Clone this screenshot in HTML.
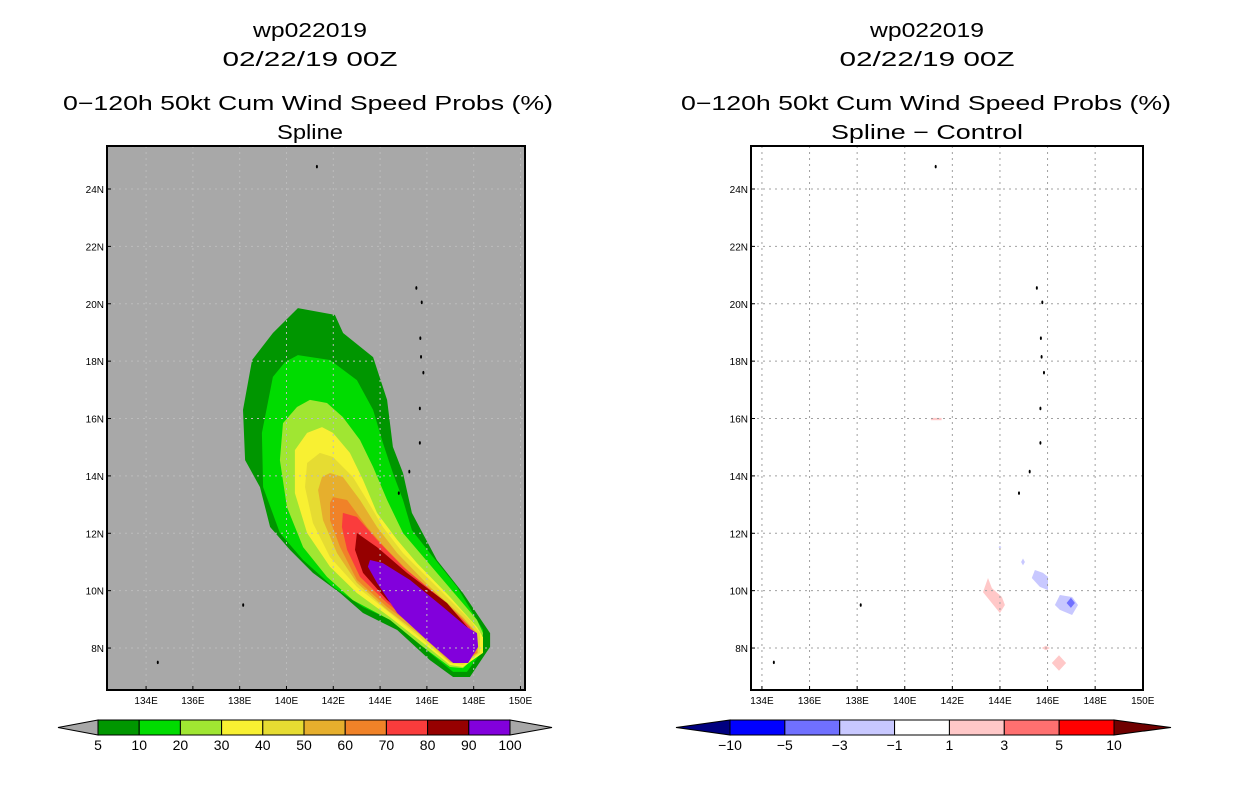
<!DOCTYPE html>
<html><head><meta charset="utf-8"><style>
html,body{margin:0;padding:0;background:#fff;}
svg{display:block;font-family:"Liberation Sans",sans-serif;}
</style></head><body>
<svg id="c" width="1236" height="800" viewBox="0 0 1236 800" xmlns="http://www.w3.org/2000/svg">
<g font-size="20" text-anchor="middle" fill="#000" lengthAdjust="spacingAndGlyphs">
<text x="310" y="37" textLength="114" lengthAdjust="spacingAndGlyphs">wp022019</text><text x="310" y="66" textLength="175" lengthAdjust="spacingAndGlyphs">02/22/19 00Z</text>
<text x="308" y="110" textLength="490" lengthAdjust="spacingAndGlyphs">0−120h 50kt Cum Wind Speed Probs (%)</text><text x="310" y="139" textLength="66" lengthAdjust="spacingAndGlyphs">Spline</text></g>
<g font-size="20" text-anchor="middle" fill="#000">
<text x="927" y="37" textLength="114" lengthAdjust="spacingAndGlyphs">wp022019</text><text x="927" y="66" textLength="175" lengthAdjust="spacingAndGlyphs">02/22/19 00Z</text>
<text x="926" y="110" textLength="490" lengthAdjust="spacingAndGlyphs">0−120h 50kt Cum Wind Speed Probs (%)</text><text x="927" y="139" textLength="192" lengthAdjust="spacingAndGlyphs">Spline − Control</text></g>
<g id="L"></g><g id="R"></g><g id="CB"></g>
</svg>
<script>
const NS="http://www.w3.org/2000/svg";
// ---- data ----
const lonTicks=[134,136,138,140,142,144,146,148,150];
const latTicks=[8,10,12,14,16,18,20,22,24];
const probLevels=[5,10,20,30,40,50,60,70,80,90,100];
const probColors=["#009600","#00dc00","#a0e632","#f8f032","#e6dc32","#e6af2d","#f08228","#fa3c3c","#960000","#8200dc"];
const c5=[[140.49,19.85],[142.07,19.61],[142.42,18.98],[143.70,18.14],[144.30,16.65],[144.55,15.01],[144.98,14.10],[145.36,12.71],[146.43,11.07],[147.54,9.92],[148.70,8.52],[148.70,8.04],[147.84,6.99],[147.12,6.99],[146.13,7.58],[144.73,8.63],[143.27,9.22],[142.29,9.92],[141.13,10.62],[140.15,11.42],[139.30,12.22],[138.87,13.61],[138.23,14.55],[138.14,16.30],[138.53,18.04],[139.42,18.98]];
const c10=[[140.49,18.21],[141.86,18.04],[143.01,17.34],[143.70,16.30],[144.12,15.15],[144.55,14.10],[144.98,13.16],[145.36,12.11],[146.13,11.31],[147.29,10.13],[148.40,8.63],[148.40,7.93],[147.71,7.17],[147.12,7.17],[146.13,7.83],[144.73,8.87],[143.27,9.43],[141.99,10.13],[140.71,11.07],[139.72,12.01],[139.00,13.61],[138.95,15.50],[139.42,17.45],[139.94,17.97]];
const c20=[[141.00,16.65],[141.73,16.54],[142.41,16.05],[143.14,15.25],[143.70,14.31],[144.30,13.16],[144.98,12.01],[145.71,11.31],[146.69,10.37],[148.14,8.98],[148.40,8.52],[148.27,7.83],[147.54,7.30],[146.99,7.34],[145.83,8.04],[144.42,8.98],[142.84,9.67],[141.73,10.48],[140.71,11.52],[140.02,12.92],[139.72,14.55],[139.85,15.84],[140.45,16.40]];
const c30=[[141.52,15.70],[141.99,15.50],[142.71,14.80],[143.27,13.86],[143.87,12.71],[144.73,11.77],[145.58,10.96],[146.99,9.78],[148.14,8.73],[148.40,8.38],[148.40,7.83],[147.54,7.34],[146.99,7.41],[145.83,8.18],[144.42,9.08],[143.01,9.92],[141.86,10.83],[140.88,12.01],[140.36,13.40],[140.36,14.90],[140.88,15.50]];
const c40=[[141.43,14.80],[141.99,14.66],[142.84,13.96],[143.44,13.16],[144.12,12.22],[144.98,11.31],[146.43,10.13],[147.84,8.98],[148.27,8.52],[148.27,7.83],[147.54,7.41],[146.99,7.48],[145.83,8.28],[144.42,9.22],[143.01,10.13],[141.86,11.17],[141.13,12.36],[140.79,13.61],[140.88,14.45]];
const c50=[[141.86,14.10],[142.41,13.96],[143.14,13.16],[143.87,12.22],[144.73,11.31],[146.13,10.13],[147.54,9.08],[148.14,8.52],[148.19,7.83],[147.54,7.48],[146.99,7.51],[145.83,8.38],[144.30,9.33],[143.01,10.27],[142.16,11.31],[141.56,12.46],[141.35,13.51],[141.52,13.96]];
const c60=[[141.99,13.26],[142.59,13.16],[143.44,12.22],[144.30,11.42],[145.58,10.37],[147.29,9.22],[147.97,8.63],[148.14,7.83],[147.54,7.51],[146.99,7.58],[145.83,8.52],[144.30,9.43],[143.01,10.37],[142.29,11.52],[141.86,12.46],[141.86,13.06]];
const c70=[[142.41,12.71],[143.01,12.57],[143.87,11.77],[144.98,10.83],[146.69,9.67],[147.84,8.73],[148.06,7.83],[147.54,7.58],[146.99,7.65],[145.83,8.56],[144.30,9.57],[143.14,10.48],[142.59,11.42],[142.37,12.22]];
const c80=[[143.01,12.01],[143.87,11.52],[145.15,10.62],[146.86,9.57],[147.84,8.63],[147.97,7.83],[147.54,7.65],[146.99,7.69],[145.83,8.63],[144.30,9.67],[143.27,10.62],[142.93,11.42]];
const c90=[[143.57,11.07],[144.12,10.96],[145.28,10.37],[146.69,9.43],[147.71,8.73],[148.14,8.52],[148.19,8.04],[147.76,7.48],[147.12,7.48],[146.13,8.18],[144.73,9.22],[143.87,10.27],[143.48,10.83]];
const probContours=[c5,c10,c20,c30,c40,c50,c60,c70,c80,c90];
const diffLevels=[-10,-5,-3,-1,1,3,5,10];
const diffColors=["#0000ff","#7070ff","#c8c8ff","#ffffff","#ffc8c8","#ff7070","#ff0000"];
const d1=[[143.50,10.44],[143.29,9.95],[143.79,9.43],[144.00,9.22],[144.21,9.50],[144.08,9.78],[143.66,10.09]];
const d2=[[145.47,10.72],[145.81,10.62],[146.02,10.48],[146.02,10.02],[145.68,10.13],[145.34,10.44]];
const d3=[[146.52,9.85],[147.03,9.78],[147.28,9.50],[147.03,9.15],[146.52,9.33],[146.31,9.50]];
const d4=[[146.98,9.75],[147.15,9.57],[146.98,9.40],[146.80,9.57]];
const d5=[[146.48,7.75],[146.78,7.48],[146.48,7.21],[146.18,7.48]];
const d6=[[145.93,8.08],[146.10,8.0],[145.93,7.92],[145.76,8.0]];
const d7=[[144.97,11.12],[145.05,11.0],[144.97,10.88],[144.89,11.0]];
const d8=[[144.0,11.56],[144.06,11.52],[144.0,11.48],[143.94,11.52]];
const d9=[[141.1,16.02],[141.55,16.02],[141.55,15.94],[141.1,15.94]];
const diffPolys=[d1,d2,d3,d4,d5,d6,d7,d8,d9];
const diffPolyClass=[4,2,2,1,4,4,2,2,4];
const islands=[[141.3,24.78],[145.55,20.55],[145.78,20.05],[145.72,18.8],[145.75,18.15],[145.85,17.6],[145.7,16.35],[145.7,15.15],[145.25,14.15],[144.8,13.4],[138.15,9.5],[134.5,7.5]];
// ---- panels ----
const panels=[{g:"L",x0:107,x1:525,lon0:132.33,ppd:23.4,bg:"#a8a8a8",grid:"#bcbcbc"},
{g:"R",x0:751,x1:1143,lon0:133.54,ppd:23.8,bg:"#ffffff",grid:"#a0a0a0"}];
const yTop=146,yBot=690;
function yOf(lat){return 189+(24-lat)*28.69;}
function mk(p,t,a){const e=document.createElementNS(NS,t);for(const k in a)e.setAttribute(k,a[k]);p.appendChild(e);return e;}
panels.forEach((P,pi)=>{
 const g=document.getElementById(P.g);
 const xOf=lon=>P.x0+(lon-P.lon0)*P.ppd;
 const pts=poly=>poly.map(q=>xOf(q[0]).toFixed(1)+","+yOf(q[1]).toFixed(1)).join(" ");
 const bg=mk(g,"rect",{x:P.x0,y:yTop,width:P.x1-P.x0,height:yBot-yTop,fill:P.bg});
 
 
 if(pi===0){probContours.forEach((poly,i)=>{const e=mk(g,"polygon",{points:pts(poly),fill:probColors[i]});
  
  });}
 else{diffPolys.forEach((poly,i)=>{const e=mk(g,"polygon",{points:pts(poly),fill:diffColors[diffPolyClass[i]]});
  
  });}
 lonTicks.forEach(l=>{const x=xOf(l);if(x<P.x1-2){const e=mk(g,"line",{x1:x,x2:x,y1:yTop,y2:yBot,stroke:P.grid,"stroke-dasharray":"2,4"});
  
  }});
 latTicks.forEach(l=>{const y=yOf(l);const e=mk(g,"line",{x1:P.x0,x2:P.x1,y1:y,y2:y,stroke:P.grid,"stroke-dasharray":"2,4"});
  
  });
 islands.forEach(q=>{const e=mk(g,"ellipse",{cx:xOf(q[0]),cy:yOf(q[1]),rx:1,ry:1.8,fill:"#000"});
  
  });
 const fr=mk(g,"rect",{x:P.x0,y:yTop,width:P.x1-P.x0,height:yBot-yTop,fill:"none",stroke:"#000","stroke-width":2});
 
 
 lonTicks.forEach(l=>{const x=xOf(l);const t=mk(g,"text",{x:x,y:704,"font-size":10,"text-anchor":"middle"});t.textContent=l+"E";
  
  
  mk(g,"line",{x1:x,x2:x,y1:yBot,y2:yBot-4,stroke:"#000"});});
 latTicks.forEach(l=>{const y=yOf(l);const t=mk(g,"text",{x:P.x0-3,y:y+4,"font-size":10,"text-anchor":"end"});t.textContent=l+"N";
  
  
  mk(g,"line",{x1:P.x0,x2:P.x0+4,y1:y,y2:y,stroke:"#000"});});
});
// ---- colorbars ----
const cb=document.getElementById("CB");
function bar(x0,x1,tipL,tipR,levels,colors,tipLc,tipRc,name){
 const w=(x1-x0)/colors.length,y0=720,y1=735,ym=727.5;
 const a=mk(cb,"polygon",{points:`${tipL},${ym} ${x0},${y0} ${x0},${y1}`,fill:tipLc,stroke:"#000","stroke-width":1});
 
 
 const b=mk(cb,"polygon",{points:`${tipR},${ym} ${x1},${y0} ${x1},${y1}`,fill:tipRc,stroke:"#000","stroke-width":1});
 
 
 colors.forEach((c,i)=>{const r=mk(cb,"rect",{x:x0+i*w,y:y0,width:w,height:y1-y0,fill:c,stroke:"#000","stroke-width":1});
  
  });
 levels.forEach((v,i)=>{const t=mk(cb,"text",{x:x0+i*w,y:750,"font-size":14,"text-anchor":"middle"});t.textContent=String(v).replace("-","−");
  
  });
}
bar(98,510,58,552,probLevels,probColors,"#a8a8a8","#a8a8a8","prob-colorbar");
bar(730,1114,676,1171,diffLevels,diffColors,"#000080","#700000","diff-colorbar");
</script>
</body></html>
